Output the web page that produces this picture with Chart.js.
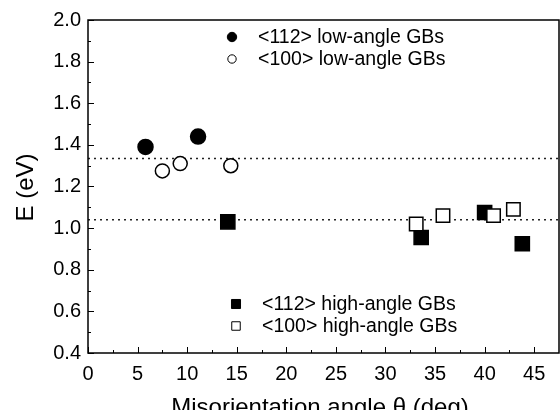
<!DOCTYPE html>
<html>
<head>
<meta charset="utf-8">
<script src="https://cdn.jsdelivr.net/npm/chart.js@4.4.1/dist/chart.umd.min.js"></script>
<style>
  html, body { margin: 0; padding: 0; background: #fff; }
  #wrap { width: 560px; height: 410px; }
</style>
</head>
<body>
<div id="wrap"><canvas id="chart" width="560" height="410"></canvas></div>
<script>
// misorientation angle (deg) and energy (eV)
const lowFilledX = [5.8, 11.1];
const lowFilledE = [1.39, 1.44];
const lowOpenX = [7.5, 9.3, 14.4];
const lowOpenE = [1.275, 1.31, 1.30];
const highFilledX = [14.1, 33.6, 40.0, 43.8];
const highFilledE = [1.03, 0.955, 1.075, 0.925];
const highOpenX = [33.1, 35.8, 40.9, 42.9];
const highOpenE = [1.02, 1.06, 1.06, 1.09];
const refLevels = [1.335, 1.04];

const xRange = [0, 47.5];
const yRange = [0.4, 2.0];
const xTickValues = [0, 5, 10, 15, 20, 25, 30, 35, 40, 45];

const legendLabels = [
    '<112> low-angle GBs',
    '<100> low-angle GBs',
    '<112> high-angle GBs',
    '<100> high-angle GBs'
];

const FONT = "'Liberation Sans', Arial, Helvetica, sans-serif";

function pts(xs, ys) {
    return xs.map((x, i) => ({ x: x, y: ys[i] }));
}

const refData = refLevels.map(v => [{ x: xRange[0], y: v }, { x: xRange[1], y: v }]);

// inward ticks, box frame, axis titles, in-plot legend
const framePlugin = {
    id: 'frame',
    afterDraw(chart) {
        const ctx = chart.ctx;
        const a = chart.chartArea;
        const xs = chart.scales.x, ys = chart.scales.y;
        ctx.save();
        ctx.strokeStyle = '#000';
        ctx.lineWidth = 1.5;
        ctx.strokeRect(a.left, a.top, a.right - a.left, a.bottom - a.top);

        ctx.lineWidth = 1;
        ctx.beginPath();
        for (let v = 0; v <= 45 + 1e-6; v += 2.5) {
            const px = Math.round(xs.getPixelForValue(v)) + 0.5;
            const len = (Math.round(v * 2) % 10 === 0) ? 6 : 3;
            ctx.moveTo(px, a.bottom);
            ctx.lineTo(px, a.bottom - len);
        }
        for (let i = 0; i <= 16; i++) {
            const v = yRange[0] + i * 0.1;
            const py = Math.round(ys.getPixelForValue(v)) + 0.5;
            const len = (i % 2 === 0) ? 6 : 3;
            ctx.moveTo(a.left, py);
            ctx.lineTo(a.left + len, py);
        }
        ctx.stroke();

        // axis titles
        ctx.fillStyle = '#000';
        ctx.font = '24px ' + FONT;
        ctx.textAlign = 'center';
        ctx.textBaseline = 'alphabetic';
        ctx.fillText('Misorientation angle \u03b8 (deg)', 320, 415);
        ctx.save();
        ctx.translate(33, (a.top + a.bottom) / 2 + 1);
        ctx.rotate(-Math.PI / 2);
        ctx.fillText('E (eV)', 0, 0);
        ctx.restore();

        // legend
        const rows = [
            { style: 'circle', fill: '#000', r: 4.7, y: 37, label: legendLabels[0], mx: 232, tx: 258 },
            { style: 'circle', fill: '#fff', r: 4.2, y: 59, label: legendLabels[1], mx: 232, tx: 258 },
            { style: 'rect', fill: '#000', r: 6.4, y: 304, label: legendLabels[2], mx: 236, tx: 262 },
            { style: 'rect', fill: '#fff', r: 6.0, y: 326, label: legendLabels[3], mx: 236, tx: 262 }
        ];
        ctx.font = '19.5px ' + FONT;
        ctx.textAlign = 'left';
        ctx.textBaseline = 'middle';
        rows.forEach(r => {
            ctx.fillStyle = r.fill;
            ctx.strokeStyle = '#000';
            ctx.lineWidth = 1;
            Chart.helpers.drawPoint(ctx, { pointStyle: r.style, radius: r.r, rotation: 0, borderWidth: 1 }, r.mx, r.y);
            ctx.fillStyle = '#000';
            ctx.fillText(r.label, r.tx, r.y + 1);
        });
        ctx.restore();
    }
};

const markerBase = { showLine: false, borderColor: '#000', borderWidth: 1.5 };

new Chart(document.getElementById('chart'), {
    type: 'scatter',
    data: {
        datasets: [
            Object.assign({ label: legendLabels[0], data: pts(lowFilledX, lowFilledE), pointStyle: 'circle', pointRadius: 7.5, backgroundColor: '#000' }, markerBase),
            Object.assign({ label: legendLabels[1], data: pts(lowOpenX, lowOpenE), pointStyle: 'circle', pointRadius: 7, backgroundColor: '#fff' }, markerBase),
            Object.assign({ label: legendLabels[3], data: pts(highOpenX, highOpenE), pointStyle: 'rect', pointRadius: 9.5, backgroundColor: '#fff' }, markerBase),
            Object.assign({ label: legendLabels[2], data: pts(highFilledX, highFilledE), pointStyle: 'rect', pointRadius: 10, backgroundColor: '#000' }, markerBase),
            { type: 'line', label: 'ref1', data: refData[0], borderColor: '#222', borderWidth: 1.5, borderDash: [2, 4], pointRadius: 0 },
            { type: 'line', label: 'ref2', data: refData[1], borderColor: '#222', borderWidth: 1.5, borderDash: [2, 4], pointRadius: 0 }
        ]
    },
    options: {
        responsive: false,
        animation: false,
        events: [],
        layout: { autoPadding: false, padding: { top: 20, right: 1, left: 0, bottom: 0 } },
        plugins: { legend: { display: false }, tooltip: { enabled: false } },
        scales: {
            x: {
                type: 'linear', min: xRange[0], max: xRange[1],
                grid: { display: false, drawTicks: false },
                border: { display: false },
                ticks: { color: '#000', padding: 9, font: { family: FONT, size: 20 } },
                afterBuildTicks(scale) { scale.ticks = xTickValues.map(v => ({ value: v })); },
                afterFit(scale) { scale.height = 57; scale.paddingLeft = 0; scale.paddingRight = 0; }
            },
            y: {
                type: 'linear', min: yRange[0], max: yRange[1],
                grid: { display: false, drawTicks: false },
                border: { display: false },
                ticks: { stepSize: 0.2, color: '#000', padding: 7, font: { family: FONT, size: 20 },
                    callback: v => v.toFixed(1) },
                afterFit(scale) { scale.width = 88; scale.paddingTop = 0; scale.paddingBottom = 0; }
            }
        }
    },
    plugins: [framePlugin]
});
</script>
</body>
</html>
